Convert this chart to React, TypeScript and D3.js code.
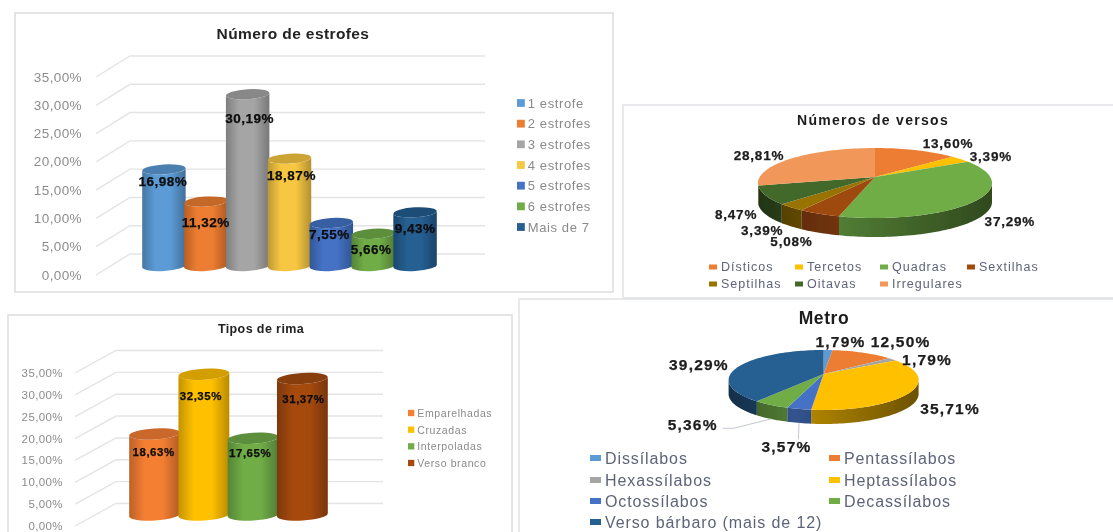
import React from 'react';
import * as d3 from 'd3';

// Número de estrofes
const estrofeLabels = ['1 estrofe', '2 estrofes', '3 estrofes', '4 estrofes', '5 estrofes', '6 estrofes', 'Mais de 7'];
const estrofeValues = [16.98, 11.32, 30.19, 18.87, 7.55, 5.66, 9.43];

// Tipos de rima
const rimaLabels = ['Emparelhadas', 'Cruzadas', 'Interpoladas', 'Verso branco'];
const rimaValues = [18.63, 32.35, 17.65, 31.37];

// Números de versos
const versoLabels = ['Dísticos', 'Tercetos', 'Quadras', 'Sextilhas', 'Septilhas', 'Oitavas', 'Irregulares'];
const versoValues = [13.6, 3.39, 37.29, 5.08, 3.39, 8.47, 28.81];

// Metro
const metroLabels = ['Dissílabos', 'Pentassílabos', 'Hexassílabos', 'Heptassílabos', 'Octossílabos', 'Decassílabos', 'Verso bárbaro (mais de 12)'];
const metroValues = [1.79, 12.5, 1.79, 35.71, 3.57, 5.36, 39.29];

const yTicks = [0, 5, 10, 15, 20, 25, 30, 35];

const officeColors = ['#5B9BD5', '#ED7D31', '#A5A5A5', '#FFC000', '#4472C4', '#70AD47', '#255E91'];
const estrofeColors = ['#5B9BD5', '#ED7D31', '#A5A5A5', '#F7C742', '#4472C4', '#70AD47', '#255E91'];
const rimaColors = ['#F47F33', '#FFC000', '#70AD47', '#A5490E'];
const versoColors = ['#ED7D31', '#FFC000', '#70AD47', '#9E480E', '#997300', '#43682B', '#F1975A'];

const FONT = '"Liberation Sans", Arial, sans-serif';
const pct = (v: number) => v.toFixed(2).replace('.', ',') + '%';
const dark = (c: string, k: number) => d3.color(c)!.darker(k).formatHex();

interface BarProps {
  id: string;
  labels: string[];
  values: number[];
  colors: string[];
  title: string;
  titleAt: [number, number];
  titleSize: number;
  frame: [number, number, number, number];
  xRange: [number, number];
  yFront: [number, number];
  baseY: number;
  unit: number; // pixels per percent
  axisX: [number, number, number]; // label right edge, front of wall, back of wall
  depth: number;
  gridRight: number;
  tickSize: number;
  labelSize: number;
  labelNudge: [number, number][];
  ry: number;
  legendX: number;
  legendRows: [number, number];
  legendSize: number;
}

const Bars3D: React.FC<BarProps> = (p) => {
  const x = d3.scaleBand<string>().domain(p.labels).range(p.xRange);
  const y = d3.scaleLinear().domain([0, 35]).range(p.yFront);
  const h = d3.scaleLinear().domain([0, 1]).range([0, p.unit]);
  const rx = x.bandwidth() / 2 + 0.8;
  const tilt = rx * Math.tan((3.5 * Math.PI) / 180);
  const legendY = d3.scalePoint<string>().domain(p.labels).range(p.legendRows);
  const [lx, fx, bx] = p.axisX;

  return (
    <g>
      <rect x={p.frame[0]} y={p.frame[1]} width={p.frame[2]} height={p.frame[3]} fill="#fff" stroke="#dcdcdc" strokeWidth={1.5} />
      <text x={p.titleAt[0]} y={p.titleAt[1]} textAnchor="middle" dominantBaseline="central" fontSize={p.titleSize} fontWeight="bold" letterSpacing={0.4} fill="#222">
        {p.title}
      </text>
      {yTicks.map((t) => (
        <g key={t}>
          <path d={`M${fx},${y(t)}L${bx},${y(t) - p.depth}H${p.gridRight}`} fill="none" stroke="#e4e4e4" strokeWidth={1.4} />
          <text x={lx} y={y(t)} textAnchor="end" dominantBaseline="central" fontSize={p.tickSize} letterSpacing={0.4} fill="#8c8c8c">
            {pct(t)}
          </text>
        </g>
      ))}
      <defs>
        {p.colors.map((c, i) => (
          <linearGradient key={i} id={`${p.id}-g${i}`} x1="0" x2="1" y1="0" y2="0">
            <stop offset="0" stopColor={dark(c, 0.75)} />
            <stop offset="0.3" stopColor={c} />
            <stop offset="0.65" stopColor={c} />
            <stop offset="1" stopColor={dark(c, 0.9)} />
          </linearGradient>
        ))}
      </defs>
      {p.labels.map((name, i) => {
        const cx = (x(name) as number) + x.bandwidth() / 2;
        const top = p.baseY - h(p.values[i]);
        const body =
          `M${cx - rx},${top + tilt}` +
          `L${cx - rx},${p.baseY + tilt}` +
          `A${rx},${p.ry} -3.5 0 0 ${cx + rx},${p.baseY - tilt}` +
          `L${cx + rx},${top - tilt}` +
          `A${rx},${p.ry} -3.5 0 1 ${cx - rx},${top + tilt}Z`;
        return (
          <g key={name}>
            <path d={body} fill={`url(#${p.id}-g${i})`} />
            <ellipse cx={cx} cy={top} rx={rx} ry={p.ry} transform={`rotate(-3.5 ${cx} ${top})`} fill={dark(p.colors[i], 0.55)} />
          </g>
        );
      })}
      {p.labels.map((name, i) => {
        const cx = (x(name) as number) + x.bandwidth() / 2;
        const top = p.baseY - h(p.values[i]);
        return (
          <text key={name} x={cx + p.labelNudge[i][0]} y={top + p.labelNudge[i][1]} textAnchor="middle" dominantBaseline="central" fontSize={p.labelSize} fontWeight="bold" letterSpacing={0.5} fill="#0c0c0c" stroke="#0c0c0c" strokeWidth={0.25}>
            {pct(p.values[i])}
          </text>
        );
      })}
      {p.labels.map((name, i) => {
        const ly = legendY(name) as number;
        const s = p.legendSize * 0.6;
        return (
          <g key={name}>
            <rect x={p.legendX} y={ly - s / 2} width={s} height={s} fill={p.colors[i]} />
            <text x={p.legendX + s + 3} y={ly} dominantBaseline="central" fontSize={p.legendSize} letterSpacing={0.6} fill="#8a8a8a">
              {name}
            </text>
          </g>
        );
      })}
    </g>
  );
};

interface PieProps {
  id: string;
  labels: string[];
  values: number[];
  colors: string[];
  title: string;
  titleAt: [number, number];
  titleSize: number;
  titleSpacing: number;
  frame: [number, number, number, number];
  center: [number, number];
  apexLift: number;
  rx: number;
  ry: number;
  depth: number;
  labelSize: number;
  labelSpacing: number;
  labelNudge: [number, number][];
  leaders?: { index: number; elbow: [number, number]; end: [number, number] }[];
  legendCols: number[];
  legendRows: number[];
  legendPerRow: number;
  legendSize: number;
  legendSpacing: number;
  swatch: [number, number];
  textGap: number;
}

// the tilted pie in the picture squeezes the far side, so angles get pulled towards the front
const warp = (a: number) => a - 0.17 * Math.sin(a);

const Pie3D: React.FC<PieProps> = (p) => {
  const [cx, cy] = p.center;
  const arcs = d3.pie<number>().sort(null)(p.values);
  const at = (a: number): [number, number] => [cx + p.rx * Math.sin(a), cy - p.ry * Math.cos(a)];
  const samples = (a0: number, a1: number) => {
    const n = Math.max(2, Math.ceil((a1 - a0) / 0.03));
    return d3.range(n + 1).map((k) => a0 + ((a1 - a0) * k) / n);
  };
  const line = d3.line();
  const apex: [number, number] = [cx, cy - p.apexLift];
  const frontA = Math.PI / 2;
  const frontB = (3 * Math.PI) / 2;

  return (
    <g>
      <rect x={p.frame[0]} y={p.frame[1]} width={p.frame[2]} height={p.frame[3]} fill="#fff" stroke="#dfe2e8" strokeWidth={1.5} />
      <text x={p.titleAt[0]} y={p.titleAt[1]} textAnchor="middle" dominantBaseline="central" fontSize={p.titleSize} fontWeight="bold" letterSpacing={p.titleSpacing} fill="#1a1a1a">
        {p.title}
      </text>
      <defs>
        {p.colors.map((c, i) => (
          <linearGradient key={i} id={`${p.id}-w${i}`} gradientUnits="userSpaceOnUse" x1={cx - p.rx} x2={cx + p.rx} y1="0" y2="0">
            <stop offset="0" stopColor={dark(c, 1.9)} />
            <stop offset="0.35" stopColor={dark(c, 0.9)} />
            <stop offset="1" stopColor={dark(c, 2.4)} />
          </linearGradient>
        ))}
      </defs>
      {arcs.map((a, i) => {
        const a0 = Math.max(warp(a.startAngle), frontA);
        const a1 = Math.min(warp(a.endAngle), frontB);
        if (a1 <= a0) return null;
        const rim = samples(a0, a1).map(at);
        const low = rim.map(([px, py]) => [px, py + p.depth] as [number, number]).reverse();
        return <path key={i} d={(line([...rim, ...low]) as string) + 'Z'} fill={`url(#${p.id}-w${i})`} />;
      })}
      {arcs.map((a, i) => (
        <path key={i} d={(line([apex, ...samples(warp(a.startAngle), warp(a.endAngle)).map(at)]) as string) + 'Z'} fill={p.colors[i]} />
      ))}
      {(p.leaders || []).map((l) => {
        const a = arcs[l.index];
        const mid = (a.startAngle + a.endAngle) / 2;
        const [mx, my] = at(mid);
        const [sx, sy] = at(warp(mid));
        const ox = mx + p.labelNudge[l.index][0];
        const oy = my + p.labelNudge[l.index][1];
        return (
          <path
            key={l.index}
            d={line([[sx, sy + p.depth], [ox + l.elbow[0], oy + l.elbow[1]], [ox + l.end[0], oy + l.end[1]]]) as string}
            fill="none"
            stroke="#c3c8d0"
            strokeWidth={1}
          />
        );
      })}
      {arcs.map((a, i) => {
        const [mx, my] = at((a.startAngle + a.endAngle) / 2);
        return (
          <text key={i} x={mx + p.labelNudge[i][0]} y={my + p.labelNudge[i][1]} textAnchor="middle" dominantBaseline="central" fontSize={p.labelSize} fontWeight="bold" letterSpacing={p.labelSpacing} fill="#1c1c1c" stroke="#1c1c1c" strokeWidth={0.25}>
            {pct(p.values[i])}
          </text>
        );
      })}
      {p.labels.map((name, i) => {
        const col = p.legendCols[i % p.legendPerRow];
        const row = p.legendRows[Math.floor(i / p.legendPerRow)];
        return (
          <g key={name}>
            <rect x={col} y={row - p.swatch[1] / 2} width={p.swatch[0]} height={p.swatch[1]} fill={p.colors[i]} />
            <text x={col + p.swatch[0] + p.textGap} y={row} dominantBaseline="central" fontSize={p.legendSize} letterSpacing={p.legendSpacing} fill="#5d6478">
              {name}
            </text>
          </g>
        );
      })}
    </g>
  );
};

export default function App() {
  return (
    <svg width={1113} height={532} viewBox="0 0 1113 532" fontFamily={FONT} style={{ position: 'absolute', left: 0, top: 0, display: 'block' }}>
      <defs>
        <filter id="soft" x="0" y="0" width="1113" height="532" filterUnits="userSpaceOnUse">
          <feGaussianBlur stdDeviation="0.45" />
        </filter>
      </defs>
      <rect width={1113} height={532} fill="#fff" />
      <g filter="url(#soft)">
        <Bars3D
          id="estrofes"
          labels={estrofeLabels}
          values={estrofeValues}
          colors={estrofeColors}
          title="Número de estrofes"
          titleAt={[293, 33]}
          titleSize={15.5}
          frame={[15, 13, 598, 279]}
          xRange={[143, 436]}
          yFront={[275, 77]}
          baseY={266}
          unit={5.69}
          axisX={[82, 96, 130]}
          depth={21}
          gridRight={485}
          tickSize={13.5}
          labelSize={13.5}
          labelNudge={[[-1, 12], [0, 21], [2, 24], [2, 17], [-2, 11], [-2, 16], [0, 16]]}
          ry={5}
          legendX={517}
          legendRows={[103, 227]}
          legendSize={13}
        />
        <Bars3D
          id="rima"
          labels={rimaLabels}
          values={rimaValues}
          colors={rimaColors}
          title="Tipos de rima"
          titleAt={[261, 329]}
          titleSize={12.5}
          frame={[8, 315, 504, 240]}
          xRange={[130, 327]}
          yFront={[526, 373]}
          baseY={515}
          unit={4.35}
          axisX={[63, 75, 116]}
          depth={22.5}
          gridRight={383}
          tickSize={11.5}
          labelSize={11.5}
          labelNudge={[[-1, 18], [-3, 22], [-3, 15], [1, 20]]}
          ry={5.5}
          legendX={408}
          legendRows={[413, 463]}
          legendSize={10.5}
        />
        <Pie3D
          id="versos"
          labels={versoLabels}
          values={versoValues}
          colors={versoColors}
          title="Números de versos"
          titleAt={[873, 120]}
          titleSize={14}
          titleSpacing={1.3}
          frame={[623, 105, 500, 193]}
          center={[875, 183]}
          apexLift={6}
          rx={117}
          ry={35}
          depth={19}
          labelSize={13.5}
          labelSpacing={0.8}
          labelNudge={[[24.5, -8], [20, -6], [43, 17], [-35, 27], [-38, 21], [-36.5, 15], [-24, -6]]}
          legendCols={[709, 795, 880, 967]}
          legendRows={[267, 284]}
          legendPerRow={4}
          legendSize={12.5}
          legendSpacing={1}
          swatch={[8, 5]}
          textGap={4}
        />
        <Pie3D
          id="metro"
          labels={metroLabels}
          values={metroValues}
          colors={officeColors}
          title="Metro"
          titleAt={[824, 318]}
          titleSize={17.5}
          titleSpacing={0.6}
          frame={[519, 299, 610, 250]}
          center={[823.6, 380]}
          apexLift={6}
          rx={95}
          ry={30}
          depth={14}
          labelSize={15.5}
          labelSpacing={1.2}
          labelNudge={[[11.6, -9], [31, -12.4], [26, -3.6], [46, 13], [-16, 37], [-85, 18], [-35, -6]]}
          leaders={[
            { index: 5, elbow: [41, 4], end: [30, 4] },
            { index: 4, elbow: [12, -7], end: [12, -7] },
          ]}
          legendCols={[590, 829]}
          legendRows={[458, 480, 501, 522]}
          legendPerRow={2}
          legendSize={16}
          legendSpacing={0.9}
          swatch={[11, 6]}
          textGap={4}
        />
      </g>
    </svg>
  );
}
